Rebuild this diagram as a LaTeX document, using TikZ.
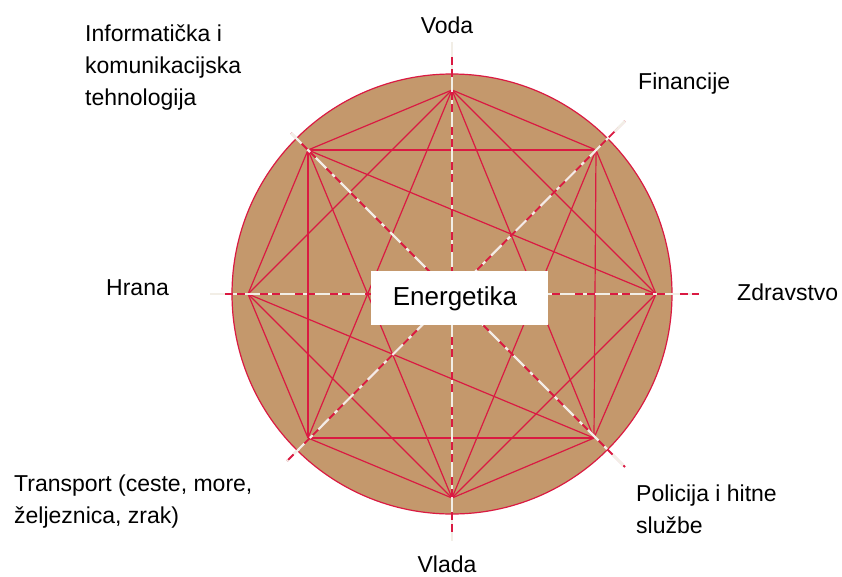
\documentclass[tikz,border=0pt]{standalone}
\usepackage{fontspec}
\setmainfont{Liberation Sans}
\definecolor{circfill}{RGB}{196,152,108}
\definecolor{chordred}{RGB}{218,26,66}
\definecolor{axiswhite}{RGB}{242,238,230}
\begin{document}
\begin{tikzpicture}[x=1pt,y=-1pt,
  chord/.style={draw=chordred,line width=1.2pt},
  axisbase/.style={draw=chordred,line width=1.8pt},
  axisdash/.style={draw=axiswhite,line width=2.2pt,dash pattern=on 15pt off 8pt on 4pt off 8pt},
  lbl/.style={font=\fontsize{23}{32}\selectfont,inner sep=0pt,align=left,anchor=base west},
  centerbox/.style={fill=white,draw=none,minimum width=177pt,minimum height=54pt,inner sep=0pt}]
\useasboundingbox (0,0) rectangle (842,576);
% circle
\node[circle,fill=circfill,draw=chordred,line width=1.2pt,minimum size=440pt,inner sep=0pt] (disc) at (452,294) {};
% octagon vertices
\coordinate (T) at (452,90);
\coordinate (NE) at (596,150);
\coordinate (R) at (656,294);
\coordinate (SE) at (594,438);
\coordinate (B) at (452,498);
\coordinate (SW) at (308,438);
\coordinate (L) at (248,294);
\coordinate (NW) at (308,150);
% axis ends
\coordinate (vt) at (452,42);
\coordinate (vb) at (452,541);
\coordinate (hl) at (210,294);
\coordinate (hr) at (699,294);
\coordinate (d1) at (291,133);
\coordinate (d2) at (625,467);
\coordinate (d3) at (625,121);
\coordinate (d4) at (287,461);
% chords
\foreach \a/\b in {T/NE,NE/R,R/SE,SE/B,B/SW,SW/L,L/NW,NW/T,
                   T/R,R/B,B/L,L/T,NE/SE,SE/SW,SW/NW,NW/NE,
                   T/SE,T/SW,NW/R,L/SE,NW/B,NE/B}
  \draw[chord] (\a) -- (\b);
% axes
\foreach \a/\b in {vt/vb,hl/hr,d1/d2,d3/d4}{
  \draw[axisbase] (\a) -- (\b);
  \draw[axisdash] (\a) -- (\b);
}
% centre box
\node[centerbox] (box) at (459.5,298) {};
\node[font=\fontsize{26}{30}\selectfont,inner sep=0pt,anchor=base] (energ) at (455,305) {Energetika};
% labels
\node[lbl,anchor=base] (voda) at (447,33) {Voda};
\node[lbl] (ikt) at (85,105) {Informatička i\\komunikacijska\\tehnologija};
\node[lbl] (fin) at (638,89) {Financije};
\node[lbl] (hrana) at (106,295) {Hrana};
\node[lbl] (zdr) at (737,300) {Zdravstvo};
\node[lbl] (trans) at (14,523) {Transport (ceste, more,\\željeznica, zrak)};
\node[lbl] (pol) at (636,533) {Policija i hitne\\službe};
\node[lbl,anchor=base] (vlada) at (447,572) {Vlada};
\end{tikzpicture}
\end{document}
